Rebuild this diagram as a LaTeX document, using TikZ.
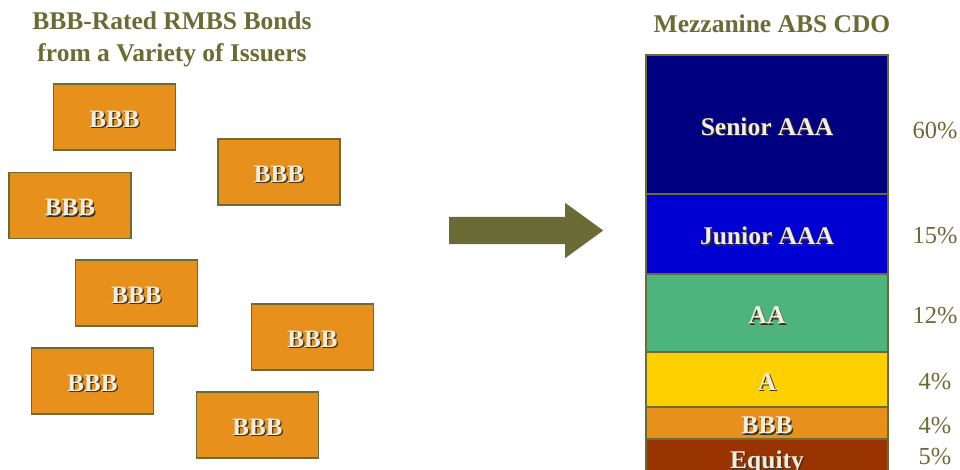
\documentclass[tikz,border=0pt]{standalone}
\usepackage{fontspec}
\setmainfont{Liberation Serif}
\usepackage{xcolor}
\usetikzlibrary{shapes.arrows, positioning}

\definecolor{olivedk}{HTML}{6B6B35}
\definecolor{bondorange}{HTML}{E8901C}
\definecolor{seniorblue}{HTML}{000080}
\definecolor{juniorblue}{HTML}{0000D2}
\definecolor{aagreen}{HTML}{4CB47C}
\definecolor{ayellow}{HTML}{FFD000}
\definecolor{equitybrown}{HTML}{993300}
\definecolor{labelfg}{HTML}{F2EEDF}
\definecolor{labelshade}{HTML}{3C3020}

\newcommand{\shadetext}[1]{\raisebox{-3pt}[\height][\depth]{\rlap{\kern1.4pt\raisebox{-1.4pt}{\color{labelshade}#1}}{\color{labelfg}#1}}}

\begin{document}
\begin{tikzpicture}[x=1pt, y=-1pt,
        heading/.style={text=olivedk, font=\fontsize{25.5}{32}\selectfont\bfseries, align=center},
        bond/.style={rectangle, draw=olivedk, line width=1.8pt, fill=bondorange, minimum width=122pt, minimum height=66pt, font=\fontsize{25}{28}\selectfont\bfseries},
        tranche/.style={rectangle, draw=olivedk, line width=1.5pt, minimum width=242pt, outer sep=0pt, inner sep=0pt, font=\fontsize{25.5}{28}\selectfont\bfseries},
        pct/.style={text=olivedk, font=\fontsize{24.5}{28}\selectfont}
    ]
        \useasboundingbox (0,0) rectangle (960,469);

        \node[heading] (lefttitle) at (172,39) {BBB-Rated RMBS Bonds\\from a Variety of Issuers};
        \node[heading] (righttitle) at (772,24) {Mezzanine ABS CDO};

        % bonds from the issuers
        \node[bond] (bond1) at (114.5,117) {\shadetext{BBB}};
        \node[bond] (bond2) at (279,172) {\shadetext{BBB}};
        \node[bond] (bond3) at (70,205.5) {\shadetext{BBB}};
        \node[bond] (bond4) at (136.5,293) {\shadetext{BBB}};
        \node[bond] (bond5) at (312.5,337) {\shadetext{BBB}};
        \node[bond] (bond6) at (92.5,381) {\shadetext{BBB}};
        \node[bond] (bond7) at (257.5,425) {\shadetext{BBB}};

        \node[single arrow, fill=olivedk, anchor=tail, minimum height=154pt, inner xsep=0pt, inner ysep=13.5pt,
              single arrow head extend=14pt, single arrow tip angle=72, single arrow head indent=0pt] (pool) at (449,230.5) {};

        % CDO capital structure
        \node[tranche, fill=seniorblue, minimum height=139pt, anchor=north west] (senior) at (646,55) {\shadetext{Senior AAA}};
        \node[tranche, fill=juniorblue, minimum height=80pt, below=0pt of senior] (junior) {\shadetext{Junior AAA}};
        \node[tranche, fill=aagreen, minimum height=78pt, below=0pt of junior] (aa) {\shadetext{AA}};
        \node[tranche, fill=ayellow, minimum height=55pt, below=0pt of aa] (single) {\shadetext{A}};
        \node[tranche, fill=bondorange, minimum height=32pt, below=0pt of single] (bbb) {\shadetext{BBB}};
        \node[tranche, fill=equitybrown, minimum height=40pt, below=0pt of bbb] (equity) {\raisebox{-1pt}[\height][\depth]{\shadetext{Equity}}};

        \node[pct] (p60) at (935,131) {60\%};
        \node[pct] (p15) at (935,236) {15\%};
        \node[pct] (p12) at (935,316) {12\%};
        \node[pct] (p4a) at (935,382) {4\%};
        \node[pct] (p4b) at (935,426) {4\%};
        \node[pct] (p5) at (935,457) {5\%};
    \end{tikzpicture}
\end{document}
